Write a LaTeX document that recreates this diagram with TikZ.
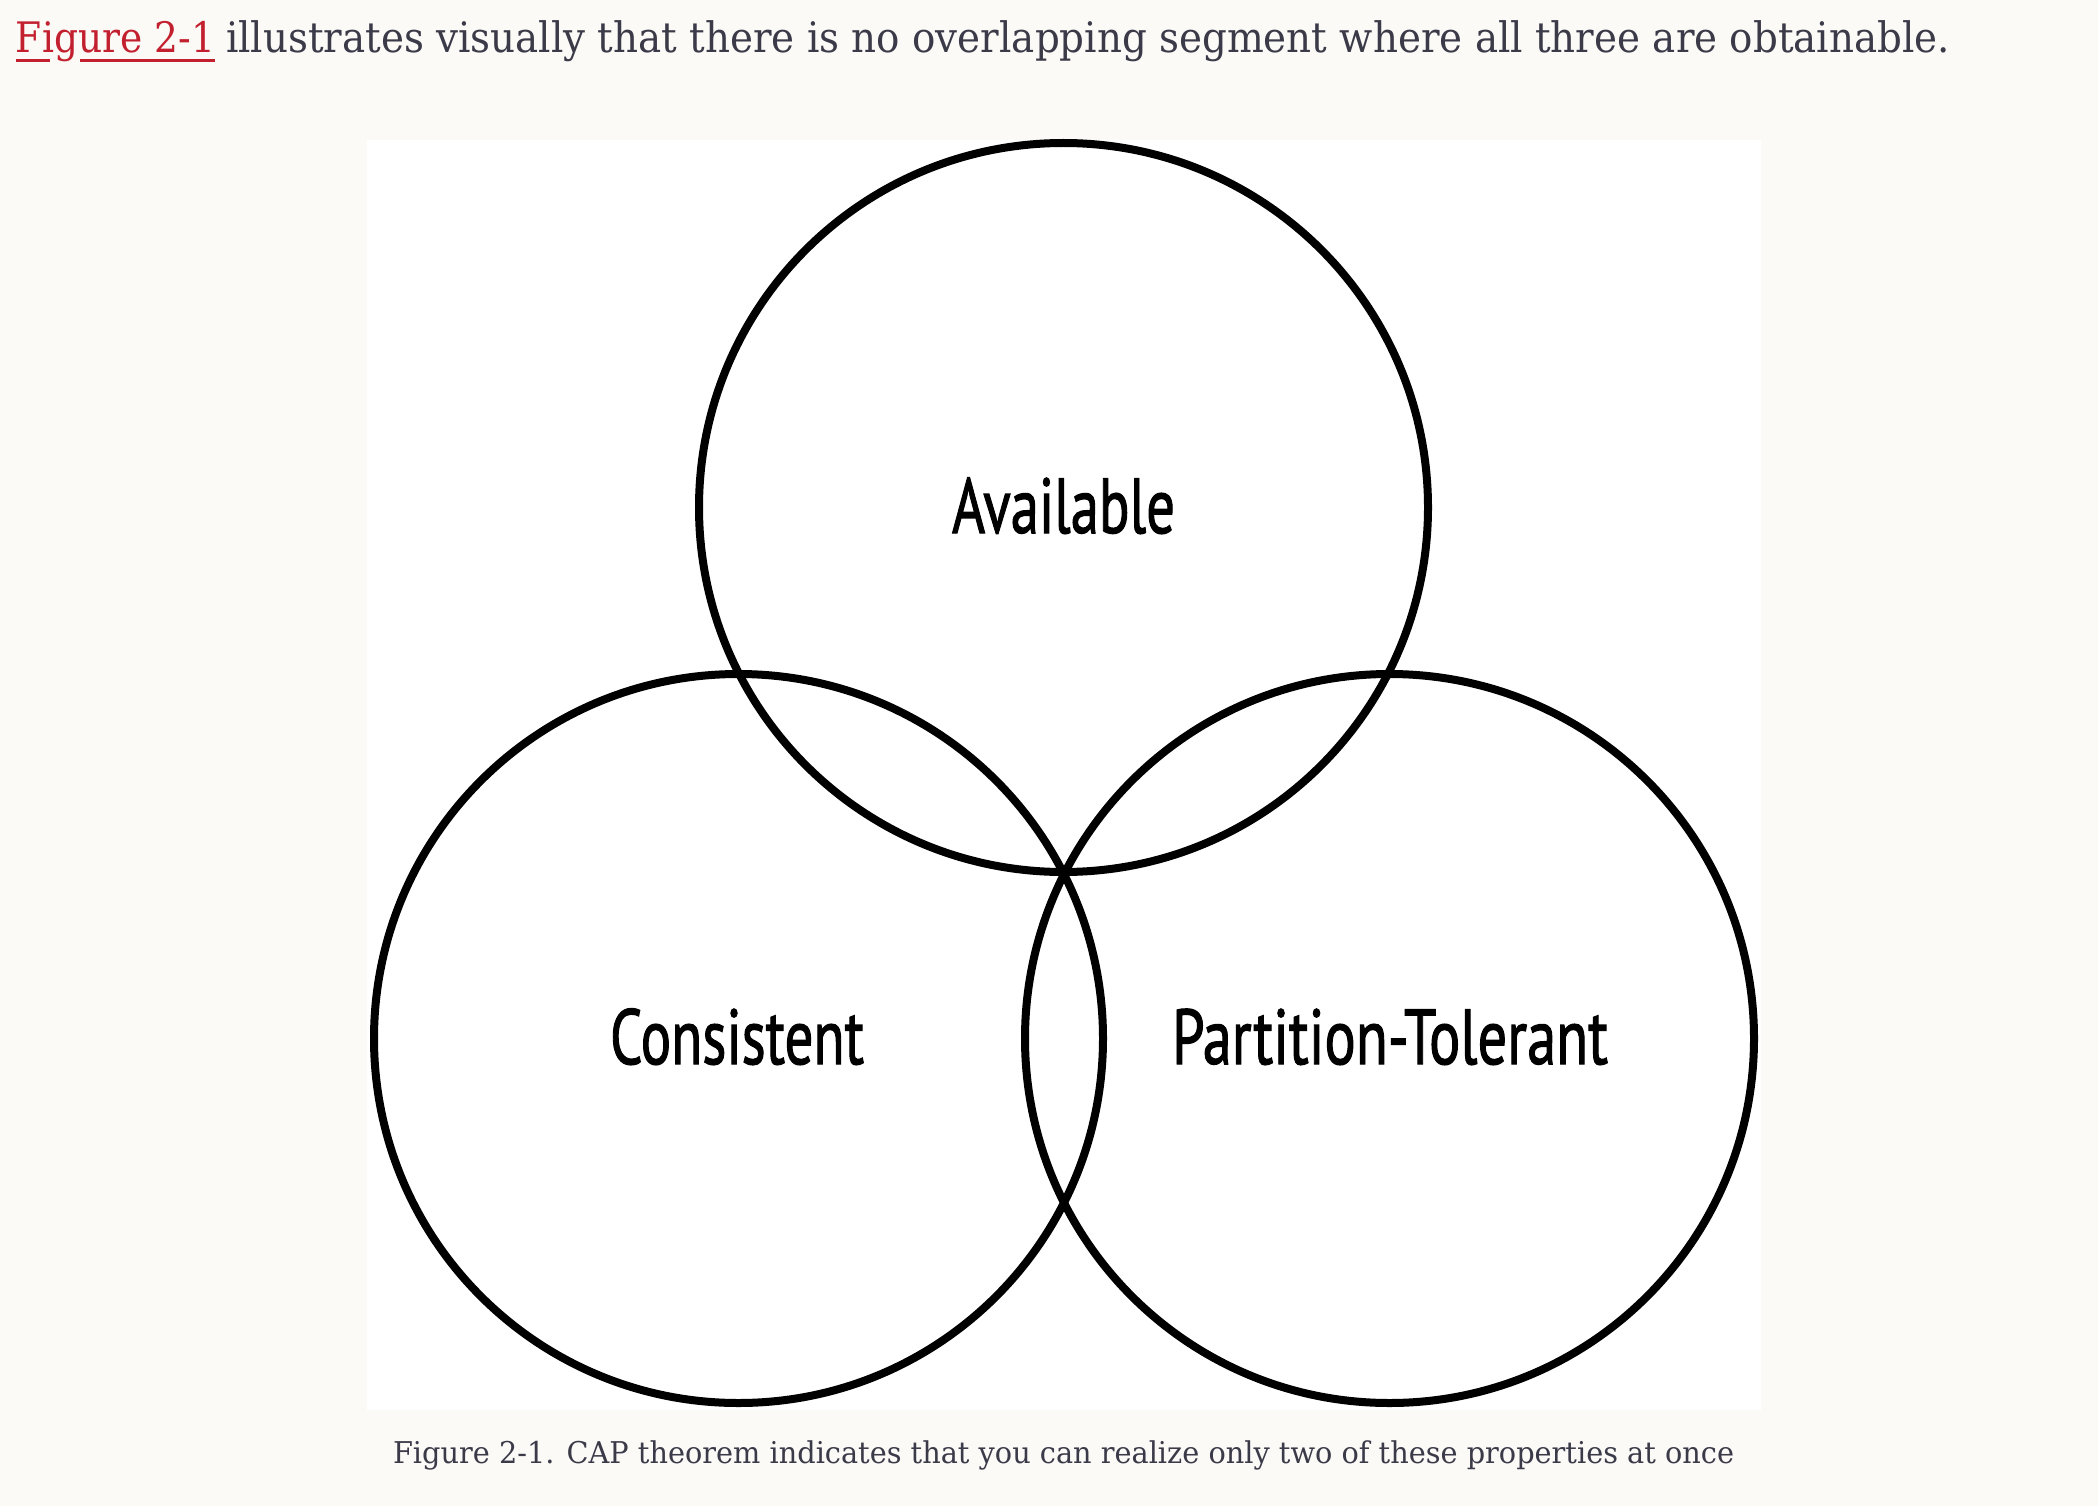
\documentclass[tikz,border=0pt]{standalone}
\usepackage{fontspec}
\setmainfont{DejaVu Serif}
\newfontfamily\labelfont[FakeBold=1.6]{PT Sans}
\definecolor{pagebg}{HTML}{FBFAF7}
\definecolor{bodytext}{HTML}{3B3A48}
\definecolor{linkred}{HTML}{C3202F}
% stretch a piece of text to a given width, keeping its height
\newcommand\stretchto[2]{\resizebox{#1}{\height}{#2}}

\begin{document}
\begin{tikzpicture}[x=1pt,y=-1pt,
  ring/.style={circle,draw=black,line width=8pt,minimum size=729pt,inner sep=0pt,outer sep=0pt},
  setname/.style={anchor=base,inner sep=0pt,outer sep=0pt,font=\labelfont\fontsize{78}{78}\selectfont},
  prose/.style={anchor=base west,inner sep=0pt,outer sep=0pt,text=bodytext,font=\fontsize{42}{42}\selectfont},
  captiontext/.style={anchor=base,inner sep=0pt,outer sep=0pt,text=bodytext,font=\fontsize{30}{30}\selectfont}]

% page and figure panel
\fill[pagebg] (0,0) rectangle (2098,1506);
\useasboundingbox (0,0) rectangle (2098,1506);
\fill[white] (367,140) rectangle (1761,1410);

% lead-in sentence with its link
\node[prose,text=linkred] (link) at (16,53) {\stretchto{199pt}{Figure 2-1}};
\node[prose] (lead) at (226,53) {\stretchto{1724pt}{illustrates visually that there is no overlapping segment where all three are obtainable.}};
\coordinate (ulA) at (16,61);
\coordinate (ulB) at (50,61);
\coordinate (ulC) at (80,61);
\coordinate (ulD) at (215,61);
\draw[linkred,line width=3pt] (ulA) -- (ulB) (ulC) -- (ulD);

% the three property sets
\node[ring] (avail) at (1063.5,507.5) {};
\node[ring] (cons) at (738.5,1038.5) {};
\node[ring] (part) at (1389.5,1038.5) {};

\node[setname] (availL) at (1063.5,533) {\stretchto{223pt}{Available}};
\node[setname] (consL) at (737,1064) {\stretchto{254pt}{Consistent}};
\node[setname] (partL) at (1390,1064) {\stretchto{436pt}{Partition-Tolerant}};

% caption
\node[captiontext] (cap) at (1063.5,1463) {\stretchto{1341pt}{Figure 2-1. CAP theorem indicates that you can realize only two of these properties at once}};
\end{tikzpicture}
\end{document}
